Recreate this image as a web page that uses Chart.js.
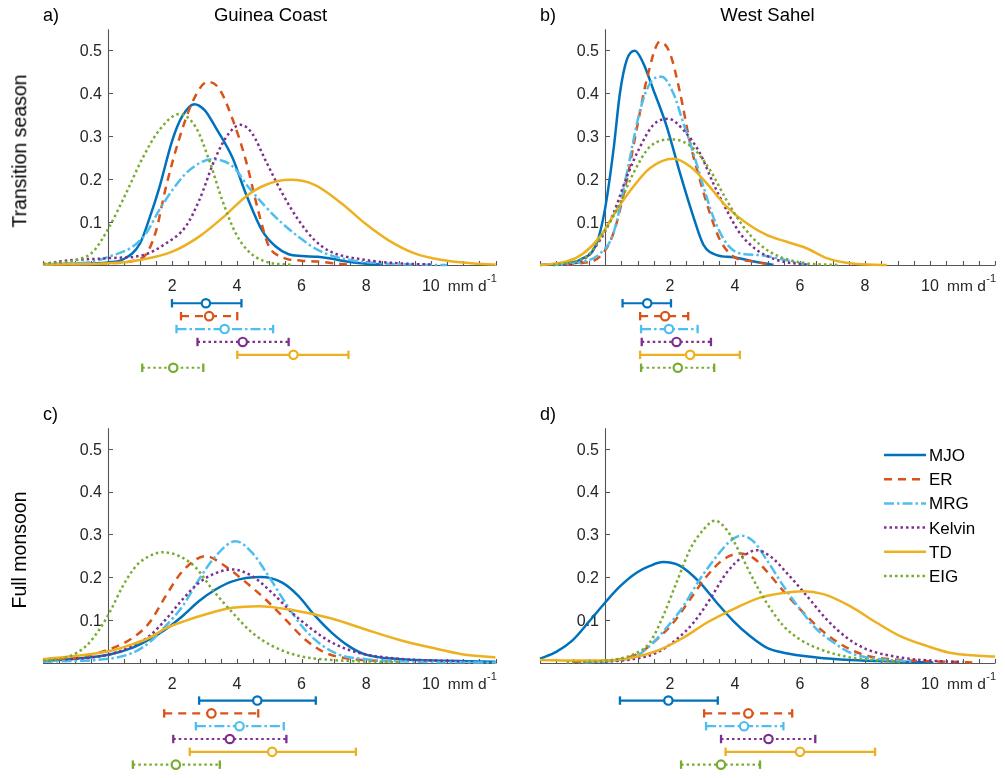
<!DOCTYPE html>
<html>
<head>
<meta charset="utf-8">
<script src="https://cdn.jsdelivr.net/npm/chart.js@4.4.1/dist/chart.umd.min.js"></script>
<style>
html,body{margin:0;padding:0;background:#fff;}
#wrap{position:relative;width:1005px;height:778px;overflow:hidden;background:#fff;font-family:"Liberation Sans",Arial,Helvetica,sans-serif;color:#000;}
#wrap canvas{position:absolute;}
.t{position:absolute;white-space:nowrap;line-height:1;}
</style>
</head>
<body>
<div id="wrap"></div>
<script>
// ---------------- DATA ----------------
const waves = ['MJO', 'ER', 'MRG', 'Kelvin', 'TD', 'EIG'];
const regions = ['Guinea Coast', 'West Sahel'];
const seasons = ['Transition season', 'Full monsoon'];
const panelLetters = ['a)', 'b)', 'c)', 'd)'];
const xTickValues = [2, 4, 6, 8, 10];
const xTickLabels = ['2', '4', '6', '8', '10'];
const yTickValues = [0.1, 0.2, 0.3, 0.4, 0.5];
const yTickLabels = ['0.1', '0.2', '0.3', '0.4', '0.5'];
const xUnit = 'mm d';
const xUnitSup = '-1';

// a) Guinea Coast, transition season: density curves [rain rate, density]
const gcTransMJO = [[-2,0.002],[-1,0.003],[0,0.006],[0.5,0.014],[1.0,0.05],[1.3,0.11],[1.6,0.18],[2.0,0.29],[2.3,0.345],[2.68,0.374],[3.0,0.36],[3.34,0.32],[3.86,0.25],[4.27,0.167],[4.78,0.08],[5.2,0.043],[5.6,0.025],[6.0,0.021],[6.5,0.019],[6.9,0.015],[7.4,0.008],[8.0,0.003],[8.5,0.001]];
const gcTransER = [[-2,0.001],[0,0.004],[0.8,0.01],[1.19,0.025],[1.5,0.08],[1.8,0.18],[2.2,0.29],[2.63,0.38],[3.09,0.426],[3.45,0.41],[3.86,0.34],[4.27,0.245],[4.68,0.12],[4.98,0.045],[5.4,0.018],[6.0,0.01],[6.5,0.008],[7.0,0.004],[7.45,0.001]];
const gcTransMRG = [[-2,0.001],[-1,0.004],[-0.45,0.008],[0.06,0.02],[0.78,0.043],[1.19,0.074],[1.6,0.128],[2.0,0.174],[2.52,0.22],[3.24,0.246],[3.86,0.23],[4.37,0.18],[4.88,0.136],[5.4,0.097],[5.9,0.066],[6.5,0.035],[7.45,0.012],[8.5,0.004],[9.5,0.001],[10.5,0]];
const gcTransKelvin = [[-2,0.002],[-1.3,0.01],[0.06,0.016],[1.09,0.023],[1.8,0.05],[2.42,0.09],[2.83,0.15],[3.34,0.25],[3.75,0.306],[4.11,0.326],[4.47,0.306],[4.88,0.244],[5.4,0.167],[5.9,0.105],[6.4,0.058],[6.9,0.031],[7.96,0.012],[9.0,0.004],[10.0,0.001]];
const gcTransTD = [[-2,0.001],[0.06,0.004],[1.09,0.013],[2.0,0.031],[2.83,0.066],[3.65,0.116],[4.27,0.159],[4.88,0.186],[5.65,0.198],[6.42,0.186],[7.24,0.143],[7.96,0.097],[8.68,0.058],[9.5,0.027],[10.3,0.012],[11.24,0.004],[12,0.001]];
const gcTransEIG = [[-2,0.003],[-0.96,0.012],[-0.45,0.031],[0.06,0.09],[0.57,0.167],[1.09,0.25],[1.6,0.314],[2.22,0.351],[2.73,0.32],[3.14,0.244],[3.55,0.15],[3.96,0.074],[4.37,0.031],[4.88,0.008],[5.75,0]];

// b) West Sahel, transition season
const wsTransMJO = [[-2,0],[-1.2,0.004],[-0.77,0.012],[-0.26,0.05],[0,0.13],[0.26,0.267],[0.46,0.4],[0.67,0.477],[0.92,0.498],[1.18,0.469],[1.49,0.407],[1.9,0.322],[2.31,0.213],[2.72,0.112],[3.03,0.047],[3.44,0.023],[3.95,0.018],[4.46,0.01],[5.18,0]];
const wsTransER = [[-1.2,0],[-0.77,0.004],[-0.15,0.02],[0.26,0.074],[0.67,0.198],[0.97,0.314],[1.28,0.43],[1.69,0.519],[2.0,0.492],[2.31,0.4],[2.62,0.283],[2.92,0.198],[3.23,0.12],[3.54,0.058],[3.95,0.02],[4.56,0.008],[5.18,0]];
const wsTransMRG = [[-1.6,0],[-1.18,0.002],[-0.15,0.027],[0.26,0.074],[0.67,0.213],[1.08,0.36],[1.38,0.422],[1.74,0.438],[2.1,0.4],[2.41,0.33],[2.72,0.26],[3.03,0.182],[3.33,0.112],[3.74,0.05],[4.15,0.027],[4.77,0.023],[5.28,0.016],[6.0,0.004],[6.3,0]];
const wsTransKelvin = [[-1.6,0],[-0.77,0.008],[-0.15,0.058],[0.26,0.12],[0.67,0.205],[1.08,0.275],[1.49,0.326],[1.95,0.34],[2.41,0.314],[2.92,0.26],[3.33,0.19],[3.74,0.128],[4.15,0.074],[4.67,0.035],[5.28,0.012],[6.0,0.002],[6.3,0]];
const wsTransTD = [[-2,0],[-1.18,0.008],[-0.67,0.027],[-0.15,0.066],[0.36,0.128],[0.87,0.182],[1.38,0.225],[2.1,0.247],[2.62,0.229],[3.13,0.19],[3.74,0.136],[4.36,0.097],[4.97,0.07],[5.59,0.054],[6.2,0.039],[6.82,0.016],[7.54,0.004],[8.67,0]];
const wsTransEIG = [[-1.6,0],[-0.56,0.02],[-0.05,0.074],[0.36,0.128],[0.87,0.213],[1.38,0.275],[2.1,0.292],[2.72,0.271],[3.23,0.221],[3.74,0.151],[4.26,0.089],[4.77,0.047],[5.38,0.019],[6.2,0.004],[7.2,0]];

// c) Guinea Coast, full monsoon
const gcFullMJO = [[-2,0.004],[-0.96,0.009],[0.06,0.019],[0.78,0.035],[1.29,0.054],[1.8,0.078],[2.32,0.109],[2.83,0.144],[3.34,0.171],[3.86,0.19],[4.73,0.2],[5.4,0.187],[5.9,0.156],[6.42,0.109],[6.93,0.07],[7.45,0.039],[7.96,0.019],[8.98,0.008],[10.5,0.004],[12,0.002]];
const gcFullER = [[-2,0.006],[-0.96,0.012],[0.06,0.031],[0.78,0.058],[1.29,0.093],[1.8,0.156],[2.32,0.214],[3.04,0.249],[3.55,0.23],[4.16,0.195],[4.88,0.148],[5.5,0.101],[6.11,0.054],[6.73,0.023],[7.45,0.009],[8.47,0.004],[9.0,0.002]];
const gcFullMRG = [[-2,0.002],[0.06,0.009],[0.78,0.023],[1.29,0.047],[1.8,0.086],[2.32,0.132],[2.83,0.195],[3.34,0.249],[3.96,0.284],[4.47,0.257],[4.98,0.202],[5.5,0.14],[6.0,0.086],[6.52,0.047],[7.14,0.019],[7.96,0.008],[9.5,0.002],[12,0]];
const gcFullKelvin = [[-2,0.004],[0.06,0.019],[0.78,0.039],[1.29,0.062],[1.8,0.101],[2.32,0.148],[2.83,0.187],[3.34,0.209],[3.86,0.218],[4.47,0.202],[5.09,0.163],[5.7,0.117],[6.32,0.078],[6.93,0.047],[7.75,0.023],[8.98,0.009],[10.5,0.004],[11,0.003]];
const gcFullTD = [[-2,0.008],[-0.96,0.016],[0.06,0.027],[0.78,0.043],[1.29,0.058],[1.8,0.08],[2.42,0.098],[3.04,0.113],[3.86,0.128],[4.68,0.132],[5.7,0.123],[6.93,0.103],[7.96,0.078],[8.98,0.054],[10.0,0.035],[11.0,0.019],[12,0.012]];
const gcFullEIG = [[-2,0.004],[-1.27,0.012],[-0.66,0.039],[-0.25,0.078],[0.06,0.117],[0.47,0.179],[0.88,0.226],[1.29,0.249],[1.7,0.258],[2.22,0.249],[2.73,0.222],[3.24,0.171],[3.86,0.117],[4.47,0.07],[5.09,0.039],[5.9,0.016],[6.93,0.006],[9.0,0.001]];

// d) West Sahel, full monsoon
const wsFullMJO = [[-2,0.009],[-1.5,0.025],[-1.0,0.052],[-0.5,0.095],[0,0.14],[0.46,0.178],[0.97,0.21],[1.38,0.226],[1.79,0.235],[2.31,0.226],[2.92,0.187],[3.44,0.14],[3.95,0.097],[4.46,0.062],[4.97,0.035],[5.49,0.023],[6.51,0.012],[7.54,0.006],[9.08,0.002],[10.1,0]];
const wsFullER = [[-0.97,0.002],[0.46,0.008],[1.08,0.023],[1.59,0.054],[2.1,0.093],[2.62,0.148],[3.13,0.202],[3.64,0.241],[4.15,0.255],[4.56,0.245],[4.97,0.214],[5.49,0.167],[6.0,0.125],[6.51,0.086],[7.03,0.054],[7.54,0.031],[8.05,0.016],[9.08,0.006],[10.1,0.003],[11.3,0]];
const wsFullMRG = [[-0.67,0],[0.87,0.012],[1.38,0.039],[1.9,0.082],[2.41,0.132],[2.92,0.195],[3.44,0.249],[3.85,0.284],[4.2,0.297],[4.56,0.284],[4.97,0.241],[5.49,0.179],[6.0,0.125],[6.51,0.078],[7.03,0.047],[7.54,0.023],[8.05,0.012],[9.08,0.004],[9.5,0.002]];
const wsFullKelvin = [[-0.67,0],[0.87,0.008],[1.59,0.023],[2.2,0.054],[2.72,0.093],[3.23,0.148],[3.74,0.21],[4.26,0.249],[4.67,0.263],[5.08,0.249],[5.59,0.21],[6.21,0.156],[6.82,0.101],[7.44,0.058],[8.05,0.031],[9.08,0.012],[10.1,0.004],[11,0.001]];
const wsFullTD = [[-2,0.006],[-1,0.005],[0,0.005],[0.87,0.012],[1.59,0.027],[2.41,0.058],[3.13,0.093],[3.95,0.125],[4.77,0.152],[5.49,0.163],[6.1,0.167],[6.72,0.16],[7.54,0.132],[8.36,0.093],[9.08,0.062],[9.9,0.039],[10.6,0.023],[11.3,0.017],[12,0.014]];
const wsFullEIG = [[-1.18,0],[0,0.004],[0.87,0.019],[1.38,0.047],[1.79,0.109],[2.2,0.187],[2.62,0.265],[3.03,0.311],[3.38,0.332],[3.74,0.311],[4.15,0.257],[4.56,0.195],[4.97,0.14],[5.49,0.086],[6.0,0.054],[6.62,0.031],[7.54,0.012],[8.56,0.004],[9.1,0.001]];

// error bars (low, mean, high) per wave, order as in `waves`
const gcTransLow  = [1.99, 2.27, 2.13, 2.78, 4.01, 1.07];
const gcTransMean = [3.04, 3.14, 3.62, 4.18, 5.75, 2.03];
const gcTransHigh = [4.14, 4.01, 5.12, 5.60, 7.45, 2.96];
const wsTransLow  = [0.54, 1.08, 1.11, 1.13, 1.08, 1.11];
const wsTransMean = [1.30, 1.85, 1.97, 2.20, 2.62, 2.24];
const wsTransHigh = [2.03, 2.56, 2.85, 3.26, 4.15, 3.36];
const gcFullLow   = [2.83, 1.75, 2.73, 2.03, 2.54, 0.78];
const gcFullMean  = [4.63, 3.21, 4.08, 3.78, 5.09, 2.11];
const gcFullHigh  = [6.44, 4.66, 5.45, 5.53, 7.68, 3.47];
const wsFullLow   = [0.46, 3.05, 3.11, 3.57, 3.71, 2.34];
const wsFullMean  = [1.95, 4.41, 4.28, 5.03, 6.00, 3.57];
const wsFullHigh  = [3.47, 5.76, 5.49, 6.47, 8.31, 4.77];

// ---------------- STYLE / LAYOUT ----------------
const waveColors = ['#0072BD', '#D95319', '#4DBEEE', '#7E2F8E', '#EDB120', '#77AC30'];
const waveDash = [[], [8, 6], [10, 3, 2.5, 3], [2.5, 3], [], [2.5, 3]];
const X_MIN = -2, X_MAX = 12, X_MINOR = 0.5;
const Y_MIN = -0.255, Y_MAX = 0.548;
const ROW0 = -0.089, ROW_STEP = 0.030;
const AXIS_COLOR = '#555555';
const TICK_COLOR = '#262626';
const FONT = '"Liberation Sans", Arial, Helvetica, sans-serif';

const panels = [
  {letter: 0, title: regions[0], ylabel: seasons[0], cx: 0,   cy: 0,   cw: 502, ch: 389, x0: 108, y0: 265,
   curves: [gcTransMJO, gcTransER, gcTransMRG, gcTransKelvin, gcTransTD, gcTransEIG], lo: gcTransLow, mean: gcTransMean, hi: gcTransHigh},
  {letter: 1, title: regions[1], ylabel: null, cx: 502, cy: 0,   cw: 503, ch: 389, x0: 605, y0: 265,
   curves: [wsTransMJO, wsTransER, wsTransMRG, wsTransKelvin, wsTransTD, wsTransEIG], lo: wsTransLow, mean: wsTransMean, hi: wsTransHigh},
  {letter: 2, title: null, ylabel: seasons[1], cx: 0,   cy: 389, cw: 502, ch: 389, x0: 108, y0: 664,
   curves: [gcFullMJO, gcFullER, gcFullMRG, gcFullKelvin, gcFullTD, gcFullEIG], lo: gcFullLow, mean: gcFullMean, hi: gcFullHigh},
  {letter: 3, title: null, ylabel: null, cx: 502, cy: 389, cw: 503, ch: 389, x0: 605, y0: 664,
   curves: [wsFullMJO, wsFullER, wsFullMRG, wsFullKelvin, wsFullTD, wsFullEIG], lo: wsFullLow, mean: wsFullMean, hi: wsFullHigh,
   legend: {x1: 884, x2: 926, y: 455, step: 24.2, textX: 929}}
];
const PX_X = 32.5, PX_Y = 430;

const wrap = document.getElementById('wrap');

function addText(txt, left, baseline, size, opts = {}) {
  const s = document.createElement('div');
  s.className = 't';
  s.textContent = txt;
  s.style.fontSize = size + 'px';
  s.style.top = (baseline - 0.8465 * size) + 'px';
  s.style.left = left + 'px';
  if (opts.center) s.style.transform = 'translateX(-50%)';
  if (opts.color) s.style.color = opts.color;
  wrap.appendChild(s);
  return s;
}
function addVText(txt, cx, cy, size) {
  const s = document.createElement('div');
  s.className = 't';
  s.textContent = txt;
  s.style.fontSize = size + 'px';
  s.style.left = cx + 'px';
  s.style.top = cy + 'px';
  s.style.transform = 'translate(-50%,-50%) rotate(-90deg)';
  wrap.appendChild(s);
}

const axesPlugin = {
  id: 'matlabAxes',
  beforeDatasetsDraw(chart) {
    const ctx = chart.ctx, xs = chart.scales.x, ys = chart.scales.y;
    const x0 = Math.round(xs.getPixelForValue(0)) + 0.5;
    const y0 = Math.round(ys.getPixelForValue(0)) + 0.5;
    const yTop = ys.getPixelForValue(Y_MAX);
    const xl = xs.getPixelForValue(X_MIN), xr = xs.getPixelForValue(X_MAX);
    ctx.save();
    ctx.strokeStyle = AXIS_COLOR;
    ctx.lineWidth = 1.1;
    ctx.beginPath();
    ctx.moveTo(x0, y0); ctx.lineTo(x0, yTop);
    ctx.moveTo(xl, y0); ctx.lineTo(xr, y0);
    const n = Math.round((X_MAX - X_MIN) / X_MINOR);
    for (let i = 0; i <= n; i++) {
      const p = Math.round(xs.getPixelForValue(X_MIN + i * X_MINOR)) + 0.5;
      ctx.moveTo(p, y0); ctx.lineTo(p, y0 - 4.5);
    }
    yTickValues.forEach(v => {
      const p = Math.round(ys.getPixelForValue(v)) + 0.5;
      ctx.moveTo(x0, p); ctx.lineTo(x0 + 4.5, p);
    });
    ctx.stroke();
    // tick labels
    ctx.fillStyle = TICK_COLOR;
    ctx.font = '16px ' + FONT;
    ctx.textBaseline = 'alphabetic';
    ctx.textAlign = 'right';
    yTickValues.forEach((v, i) => {
      ctx.fillText(yTickLabels[i], x0 - 6.5, ys.getPixelForValue(v) + 5.8);
    });
    ctx.textAlign = 'center';
    xTickValues.forEach((v, i) => {
      ctx.fillText(xTickLabels[i], xs.getPixelForValue(v), y0 + 25);
    });
    // unit after the last tick label
    const lastX = xs.getPixelForValue(xTickValues[xTickValues.length - 1]);
    ctx.textAlign = 'left';
    const ux = lastX + 17;
    ctx.font = '15.5px ' + FONT;
    ctx.fillText(xUnit, ux, y0 + 25);
    const w = ctx.measureText(xUnit).width;
    ctx.font = '11px ' + FONT;
    ctx.fillText(xUnitSup, ux + w + 0.5, y0 + 16);
    ctx.restore();
  },
  afterDatasetsDraw(chart, args, opts) {
    const lg = opts && opts.legend;
    if (!lg) return;
    const ctx = chart.ctx;
    const ox = opts.cx, oy = opts.cy;
    ctx.save();
    waves.forEach((w, k) => {
      const ds = chart.data.datasets.find(d => d.label === w);
      const y = lg.y + k * lg.step - oy;
      ctx.strokeStyle = ds.borderColor;
      ctx.lineWidth = ds.borderWidth;
      ctx.setLineDash(ds.borderDash || []);
      ctx.lineCap = 'butt';
      ctx.beginPath();
      ctx.moveTo(lg.x1 - ox, y);
      ctx.lineTo(lg.x2 - ox, y);
      ctx.stroke();
    });
    ctx.restore();
  }
};

panels.forEach(P => {
  const cv = document.createElement('canvas');
  cv.width = P.cw; cv.height = P.ch;
  cv.style.left = P.cx + 'px'; cv.style.top = P.cy + 'px';
  cv.style.width = P.cw + 'px'; cv.style.height = P.ch + 'px';
  wrap.appendChild(cv);

  const datasets = [];
  P.curves.forEach((pts, k) => {
    datasets.push({
      label: waves[k],
      data: pts.map(([x, y]) => ({x, y})),
      borderColor: waveColors[k],
      borderWidth: 2.5,
      borderDash: waveDash[k],
      borderCapStyle: 'butt',
      pointRadius: 0,
      fill: false,
      cubicInterpolationMode: 'monotone',
      clip: false,
      order: 20 - k
    });
  });
  waves.forEach((w, k) => {
    const r = ROW0 - ROW_STEP * k;
    datasets.push({
      label: w + ' range',
      data: [{x: P.lo[k], y: r}, {x: P.hi[k], y: r}],
      borderColor: waveColors[k],
      borderWidth: 2.2,
      borderDash: waveDash[k],
      borderCapStyle: 'butt',
      pointStyle: 'line',
      pointRotation: 90,
      pointRadius: 4.2,
      pointBorderWidth: 2.3,
      pointBorderColor: waveColors[k],
      clip: false,
      order: 5
    });
    datasets.push({
      label: w + ' mean',
      data: [{x: P.mean[k], y: r}],
      showLine: false,
      pointStyle: 'circle',
      pointRadius: 4.2,
      pointBackgroundColor: '#ffffff',
      pointBorderColor: waveColors[k],
      pointBorderWidth: 2.2,
      clip: false,
      order: 0
    });
  });

  const pad = {
    left: P.x0 + X_MIN * PX_X - P.cx,
    right: P.cx + P.cw - (P.x0 + X_MAX * PX_X),
    top: P.y0 - Y_MAX * PX_Y - P.cy,
    bottom: P.cy + P.ch - (P.y0 - Y_MIN * PX_Y)
  };

  new Chart(cv, {
    type: 'line',
    data: {datasets},
    options: {
      responsive: false,
      animation: false,
      events: [],
      devicePixelRatio: 1,
      layout: {padding: pad},
      scales: {
        x: {type: 'linear', min: X_MIN, max: X_MAX, display: false},
        y: {type: 'linear', min: Y_MIN, max: Y_MAX, display: false}
      },
      plugins: {
        legend: {display: false},
        tooltip: {enabled: false},
        matlabAxes: {legend: P.legend || null, cx: P.cx, cy: P.cy}
      }
    },
    plugins: [axesPlugin]
  });

  // texts
  const letterX = P.x0 + X_MIN * PX_X;
  addText(panelLetters[P.letter], letterX, P.y0 - 243.5, 18);
  if (P.title) addText(P.title, P.x0 + (X_MIN + X_MAX) / 2 * PX_X, P.y0 - 243.5, 18.5, {center: true});
  if (P.ylabel) addVText(P.ylabel, 19.5, P.y0 - 114, 19.5);
  if (P.legend) {
    waves.forEach((w, k) => addText(w, P.legend.textX, P.legend.y + k * P.legend.step + 6.3, 17));
  }
});
</script>
</body>
</html>
